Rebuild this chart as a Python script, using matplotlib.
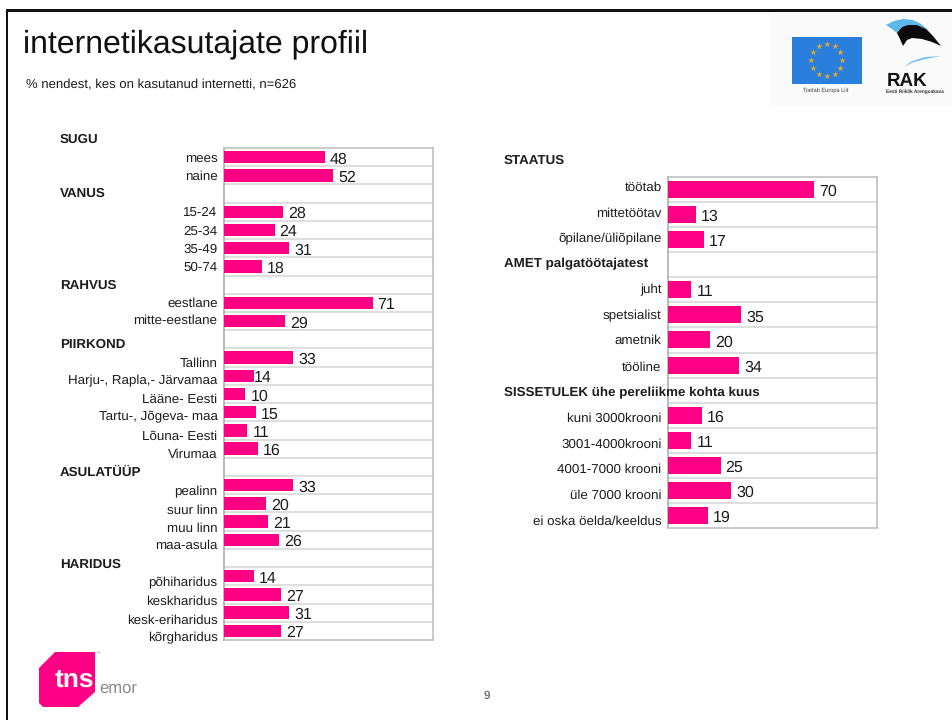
import numpy as np
import matplotlib
matplotlib.use('Agg')
import matplotlib.pyplot as plt
from matplotlib.patches import Polygon, Rectangle

plt.rcParams['font.family'] = ['Liberation Sans', 'DejaVu Sans']
plt.rcParams['text.hinting'] = 'no_hinting'

PINK = '#ff0084'
GRID = '#d4d4d4'
INK = '#1c1c1c'

# left chart, None = row that only holds a heading
left_labels = ['mees', 'naine', '',
               '15-24', '25-34', '35-49', '50-74', '',
               'eestlane', 'mitte-eestlane', '',
               'Tallinn', 'Harju-, Rapla,- Järvamaa', 'Lääne- Eesti',
               'Tartu-, Jõgeva- maa', 'Lõuna- Eesti', 'Virumaa', '',
               'pealinn', 'suur linn', 'muu linn', 'maa-asula', '',
               'põhiharidus', 'keskharidus', 'kesk-eriharidus', 'kõrgharidus']
left_values = [48, 52, None,
               28, 24, 31, 18, None,
               71, 29, None,
               33, 14, 10, 15, 11, 16, None,
               33, 20, 21, 26, None,
               14, 27, 31, 27]
left_heads = ['SUGU', 'VANUS', 'RAHVUS', 'PIIRKOND', 'ASULATÜÜP', 'HARIDUS']
left_head_y = [138, 192, 284, 343, 471, 563]
left_nudge = [0, 0, 0, 0, 0, 0, 0, 0, 0, -1.5, 0, 5, 4.5, 4.5, 4, 5, 5, 0,
              6, 6, 6, 5, 0, 6, 6.5, 7, 6.5]
left_val_gap = [5, 5, 0, 5, 5, 5, 5, 0, 5, 5, 0, 5, 0, 5, 5, 5, 5, 0,
                5, 5, 5, 5, 0, 5, 5, 5, 5]

# right chart
right_labels = ['töötab', 'mittetöötav', 'õpilane/üliõpilane', '',
                'juht', 'spetsialist', 'ametnik', 'tööline', '',
                'kuni 3000krooni', '3001-4000krooni', '4001-7000 krooni',
                'üle 7000 krooni', 'ei oska öelda/keeldus']
right_values = [70, 13, 17, None,
                11, 35, 20, 34, None,
                16, 11, 25, 30, 19]
right_heads = ['STAATUS', 'AMET palgatöötajatest', 'SISSETULEK ühe pereliikme kohta kuus']
right_head_y = [159, 262.5, 391.5]
right_nudge = [-3.5, -2.6, -2, 0, -0.8, -0.3, 0, 1.5, 0, 2, 3, 3.3, 4, 4.7]
right_val_gap = [5]*14


def px_axes(fig, x0, y0, x1, y1):
    W, H = 953, 720
    return fig.add_axes([x0/W, 1-y1/H, (x1-x0)/W, (y1-y0)/H])


def bar_panel(ax, labels, values, nudge, gaps, height):
    n = len(labels)
    for i, v in enumerate(values):
        if v is None:
            continue
        ax.barh(i, v, height=height, color=PINK, zorder=3)
        ax.annotate(str(v), (v, i), xytext=(gaps[i]*0.72, -6.5*0.72), textcoords='offset points',
                    ha='left', va='baseline', fontsize=11.5, color=INK, zorder=4)
    for i, lab in enumerate(labels):
        ax.annotate(lab, (0, i), xycoords=('axes fraction', 'data'),
                    xytext=(-5, -(nudge[i]+4.4)*0.72), textcoords='offset points',
                    ha='right', va='baseline', fontsize=9.6, color=INK,
                    annotation_clip=False)
    ax.set_xlim(0, 100)
    ax.set_ylim(n-0.5, -0.5)
    ax.set_xticks([])
    ax.set_yticks(np.arange(0.5, n-0.5))
    ax.set_yticklabels([])
    ax.tick_params(length=0)
    ax.grid(axis='y', color=GRID, lw=1.1, zorder=1)
    for s in ax.spines.values():
        s.set_color('#bcbcbc')
        s.set_linewidth(1.1)
    ax.spines['left'].set_color('#a8a8a8')


fig = plt.figure(figsize=(9.53, 7.2), dpi=100, facecolor='white')

ax1 = px_axes(fig, 224.5, 148, 433, 640)
bar_panel(ax1, left_labels, left_values, left_nudge, left_val_gap, 0.68)
ax2 = px_axes(fig, 668.5, 177, 877, 528)
bar_panel(ax2, right_labels, right_values, right_nudge, right_val_gap, 0.68)

# overlay in pixel coordinates: frame, headings, logos
ov = fig.add_axes([0, 0, 1, 1], zorder=5)
ov.set_xlim(0, 953)
ov.set_ylim(720, 0)
ov.axis('off')

ov.add_patch(Rectangle((6, 9), 947, 2.5, color='#111111', lw=0))
ov.add_patch(Rectangle((6, 9), 2.5, 711, color='#111111', lw=0))

ov.text(23.5, 52.5, 'internetikasutajate profiil', fontsize=23.05, ha='left', va='baseline', color='#111111')
ov.text(26.5, 88, '% nendest, kes on kasutanud internetti, n=626', fontsize=9.45, ha='left', va='baseline', color=INK)

for t, y in zip(left_heads, left_head_y):
    ov.text(60, y+4.4, t, fontsize=9.6, fontweight='bold', ha='left', va='baseline', color=INK)
for t, y in zip(right_heads, right_head_y):
    ov.text(504, y+4.4, t, fontsize=9.6, fontweight='bold', ha='left', va='baseline', color=INK)

ov.text(486.5, 698.5, '9', fontsize=8.5, fontweight='bold', ha='center', va='baseline', color='#808080')

# EU flag + RAK logo
ov.add_patch(Rectangle((770, 12), 183, 95, color='#fafafa', lw=0))
ov.add_patch(Rectangle((792, 37), 70, 47, color='#2a7fdc', lw=0))
ang = np.deg2rad(np.arange(0, 360, 30))
ov.scatter(826.7+15.7*np.cos(ang), 60+15.7*np.sin(ang), marker='*', s=24, color='#d8a63c', lw=0)
ov.text(826, 92, 'Toetab Europa Liit', fontsize=4.1, ha='center', va='baseline', color='#444444')

ov.add_patch(Polygon([(886, 25), (894, 21), (903, 19), (913, 20), (921, 24), (927, 29), (934, 37),
                      (926, 29), (917, 25), (908, 25), (902, 27), (897, 33), (892, 29)],
                     color='#5cb8ea', lw=0))
ov.add_patch(Polygon([(897, 33), (902, 27), (908, 25), (917, 25), (926, 29), (933, 36), (941, 46),
                      (932, 42), (922, 39), (912, 38), (907, 40), (903, 46), (900, 39)],
                     color='#0a0a0a', lw=0))
ov.add_patch(Polygon([(904, 67), (912, 61), (925, 57), (941, 56), (926, 59), (914, 62)],
                     color='#7cc4ec', lw=0))
ov.text(886.5, 86.5, 'RAK', fontsize=13.5, fontweight='bold', ha='left', va='baseline', color='#111111')
ov.text(886, 92.5, 'Eesti Riiklik Arenguakava', fontsize=3.4, fontweight='bold', ha='left', va='baseline', color='#333333')

# tns emor logo
ov.add_patch(Polygon([(39, 668), (55, 652), (95, 652), (95, 692), (78, 707), (43, 707), (39, 703)],
                     color=PINK, lw=0))
ov.text(54.5, 688, 'tns', fontsize=19, fontweight='bold', ha='left', va='baseline', color='white')
ov.text(96, 655, '™', fontsize=3.5, ha='left', va='baseline', color='#999999')
ov.text(99, 693, 'emor', fontsize=12, ha='left', va='baseline', color='#8a8a8a')

fig.savefig('out.png', dpi=100)
